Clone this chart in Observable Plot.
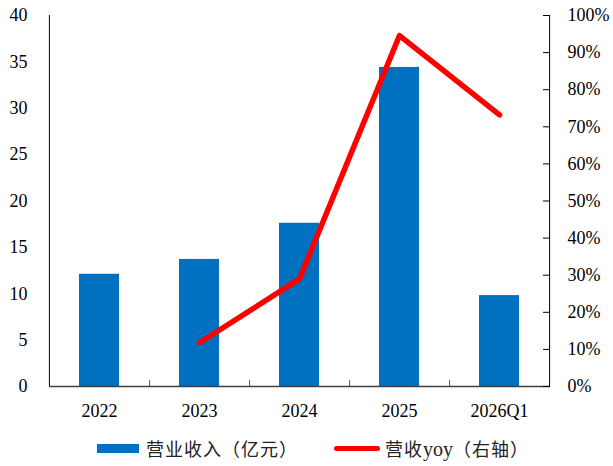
<!DOCTYPE html>
<html>
<head>
<meta charset="utf-8">
<script src="https://cdn.jsdelivr.net/npm/d3@7"></script>
<script src="https://cdn.jsdelivr.net/npm/@observablehq/plot@0.6"></script>
<style>
  html, body { margin: 0; padding: 0; background: #fff; }
  #wrap { position: relative; width: 613px; height: 466px; }
  #legend { position: absolute; left: 0; top: 430px; width: 613px; height: 36px;
    font-family: "Noto Sans CJK SC", sans-serif; font-size: 18px; color: #222; }
  .item { position: absolute; top: 0; height: 36px; display: flex; align-items: center; }
  .sw { display: inline-block; margin-right: 7px; }
  .latin { font-family: "Liberation Serif", "Times New Roman", serif; font-size: 20px; letter-spacing: 0; }
</style>
</head>
<body>
<div id="wrap">
  <div id="chart"></div>
  <div id="legend">
    <div class="item" style="left:97px"><span class="sw" style="width:42px;height:9px;background:#0070C0"></span><span style="letter-spacing:1px">营业收入（亿元）</span></div>
    <div class="item" style="left:334px"><span class="sw" style="width:46px;height:5px;border-radius:3px;background:#FF0000;margin-right:5px"></span><span style="letter-spacing:1px">营收<span class="latin">yoy</span>（右轴）</span></div>
  </div>
</div>
<script>
// Revenue (100 million CNY) and year-over-year growth
const categories = ["2022", "2023", "2024", "2025", "2026Q1"];
const revenue = [12.1, 13.7, 17.6, 34.4, 9.8];
const yoy = [null, 0.118, 0.29, 0.946, 0.732];
const leftTicks = [0, 5, 10, 15, 20, 25, 30, 35, 40];
const rightTicks = [0, 0.1, 0.2, 0.3, 0.4, 0.5, 0.6, 0.7, 0.8, 0.9, 1.0];

// Right axis (0–100%) shares the left axis range (0–40)
const Y_MAX = 40;
const rows = categories.map((c, i) => ({category: c, revenue: revenue[i], yoy: yoy[i]}));

const W = 613, H = 430, mL = 49, mR = 63, mT = 15, mB = 44;
const halfBand = (W - mL - mR) / categories.length / 2;
const serif = "'Liberation Serif', 'Times New Roman', serif";

const chart = Plot.plot({
  width: W,
  height: H,
  marginLeft: mL,
  marginRight: mR,
  marginTop: mT,
  marginBottom: mB,
  style: {fontFamily: serif, fontSize: "18px", color: "#000", background: "#fff", overflow: "visible"},
  x: {domain: categories, paddingInner: 0.6, paddingOuter: 0.3, label: null},
  y: {domain: [0, Y_MAX], label: null, axis: null},
  marks: [
    Plot.barY(rows, {x: "category", y: "revenue", fill: "#0070C0"}),
    // category boundary ticks on the baseline
    Plot.ruleX(categories.slice(0, -1), {x: d => d, y1: 0, y2: 0.65, dx: halfBand, stroke: "#595959"}),
    Plot.ruleY([0], {stroke: "#404040", strokeWidth: 1.5}),
    // left and right axis lines
    Plot.ruleX([categories[0]], {y1: 0, y2: Y_MAX, dx: -halfBand, stroke: "#000"}),
    Plot.ruleX([categories[categories.length - 1]], {y1: 0, y2: Y_MAX, dx: halfBand, stroke: "#000"}),
    // right axis inward ticks
    Plot.ruleY(rightTicks.map(t => t * Y_MAX), {insetLeft: W - mL - mR - 7, stroke: "#000"}),
    Plot.line(rows.filter(d => d.yoy != null), {
      x: "category", y: d => d.yoy * Y_MAX,
      stroke: "#FF0000", strokeWidth: 5.5, strokeLinejoin: "round", strokeLinecap: "round"
    }),
    Plot.axisX({tickSize: 0, tickPadding: 18, fontFamily: serif, fontSize: 18}),
    // left axis labels (revenue)
    Plot.text(leftTicks, {
      y: d => d, text: d => String(d), frameAnchor: "left", textAnchor: "end", dx: -22,
      fontFamily: serif, fontSize: 18, fill: "#000"
    }),
    // right axis labels (growth)
    Plot.text(rightTicks, {
      y: d => d * Y_MAX, text: d => Math.round(d * 100) + "%", frameAnchor: "right", textAnchor: "start", dx: 17,
      fontFamily: serif, fontSize: 18, fill: "#000"
    })
  ]
});
document.getElementById("chart").appendChild(chart);
</script>
</body>
</html>
